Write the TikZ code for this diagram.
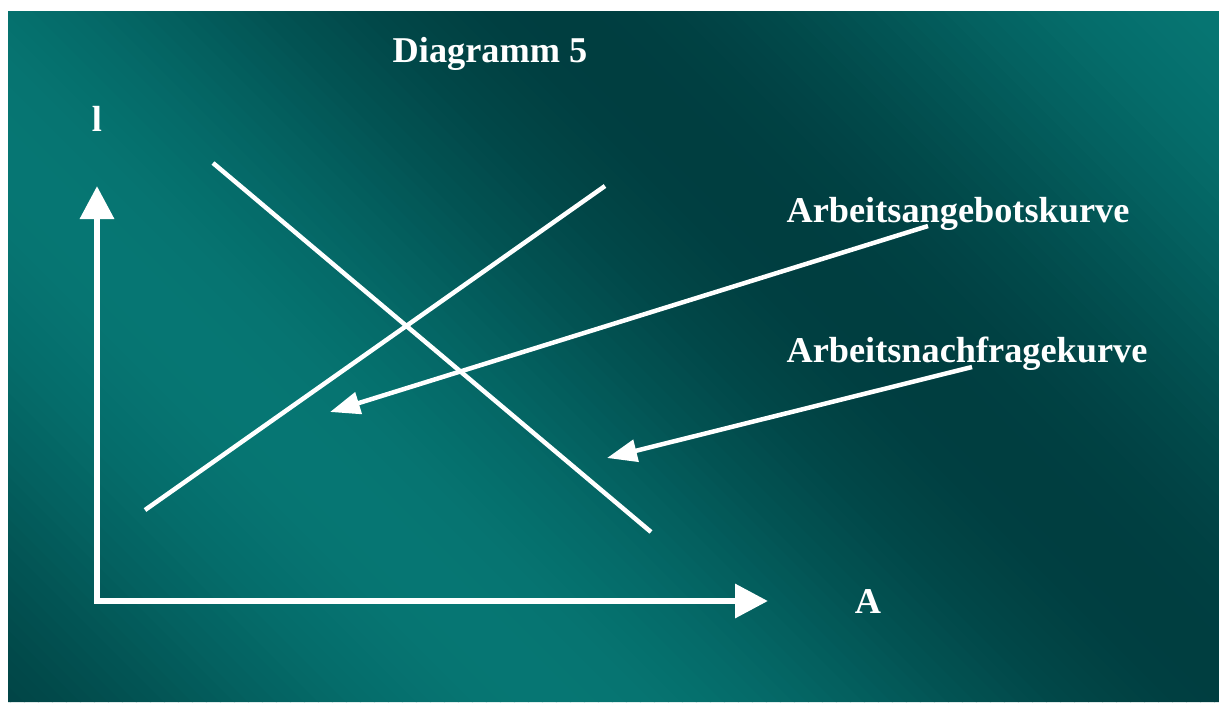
\documentclass[tikz,border=0pt]{standalone}
\usepackage{fontspec}
\setmainfont{Liberation Serif}
\usetikzlibrary{arrows.meta,positioning}
\definecolor{teallight}{RGB}{6,118,115}
\definecolor{tealdark}{RGB}{0,62,64}

\begin{document}
\begin{tikzpicture}[x=1pt, y=-1pt,
	lbl/.style={text=white, font=\fontsize{36.3}{40}\selectfont\bfseries,
		inner sep=0pt, anchor=base},
	axis/.style={white, line width=6.5pt,
		{Triangle[length=33pt,width=33pt]}-{Triangle[length=33pt,width=33pt]}},
	curve/.style={white, line width=4.5pt},
	ptr/.style={white, line width=4.5pt, -{Triangle[length=30pt,width=22pt]}}
]
	% Background with diagonal bands
	\useasboundingbox (0,0) rectangle (1219,702);
	\fill[white] (0,0) rectangle (1219,702);
	\begin{scope}
		\clip (8,11) rectangle (1219,702);
		\foreach \u in {-720,-706,...,1220}{
			\pgfmathsetmacro\mixval{50+50*cos((\u+157)/700*180)}
			\fill[teallight!\mixval!tealdark]
				(\u,0) -- (\u+15,0) -- (\u+717,702) -- (\u+702,702) -- cycle;
		}
	\end{scope}

	% Labels
	\node[lbl] (title) at (490,62) {Diagramm 5};
	\node[lbl] (ylabel) at (97,131) {l};
	\node[lbl] (xlabel) at (868,613) {A};
	\node[lbl] (angebot) at (958,222) {Arbeitsangebotskurve};
	\node[lbl] (nachfrage) at (967,362) {Arbeitsnachfragekurve};

	% Axes
	\coordinate (origin) at (97,601);
	\coordinate (ytip) at (97,186);
	\coordinate (xtip) at (768,601);
	\draw[axis] (ytip) -- (origin) -- (xtip);

	% Supply and demand lines
	\coordinate (s1) at (145,510);
	\coordinate (s2) at (605,186);
	\coordinate (d1) at (213,163);
	\coordinate (d2) at (651,532);
	\draw[curve] (s1) -- (s2);
	\draw[curve] (d1) -- (d2);

	% Pointers
	\coordinate (angebottip) at (330,412);
	\coordinate (nachfragetip) at (607,458);
	\draw[ptr] ([xshift=-30pt,yshift=-4pt]angebot.base) -- (angebottip);
	\draw[ptr] ([xshift=5pt,yshift=-5pt]nachfrage.base) -- (nachfragetip);
\end{tikzpicture}
\end{document}
